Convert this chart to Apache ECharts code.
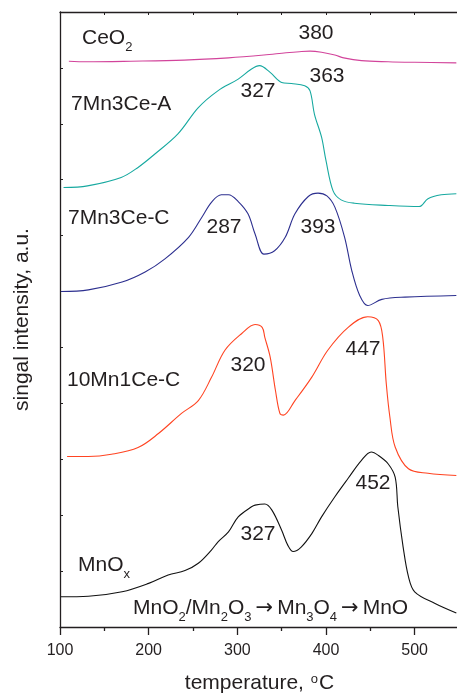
<!DOCTYPE html>
<html>
<head>
<meta charset="utf-8">
<script src="https://cdn.jsdelivr.net/npm/echarts@6/dist/echarts.min.js"></script>
<style>
html,body{margin:0;padding:0;background:#fff;}
#chart{width:457px;height:693px;}
</style>
</head>
<body>
<div id="chart"></div>
<script>
// ---- data (temperature in °C, signal intensity in a.u., curves offset) ----
const ceo2T = [110, 130, 180, 240, 290, 330, 355, 370, 382, 395, 410, 420, 440, 470, 500, 547];
const ceo2I = [10.12, 10.11, 10.12, 10.14, 10.18, 10.23, 10.27, 10.29, 10.30, 10.28, 10.23, 10.18, 10.13, 10.11, 10.10, 10.09];

const mn7ce3aT = [104, 131, 169, 188, 207, 233, 256, 278, 301, 316, 325, 337, 350, 361, 376, 382, 387, 395, 400, 408, 417, 432, 470, 505, 515, 530, 547];
const mn7ce3aI = [7.86, 7.89, 8.04, 8.22, 8.46, 8.82, 9.29, 9.59, 9.80, 9.98, 10.04, 9.92, 9.74, 9.72, 9.68, 9.59, 9.17, 8.76, 8.34, 7.80, 7.64, 7.58, 7.54, 7.52, 7.66, 7.73, 7.75];

const mn7ce3cT = [101, 132, 170, 196, 218, 245, 260, 271, 282, 290, 301, 312, 320, 330, 342, 354, 365, 380, 391, 401, 410, 421, 429, 438, 447, 463, 489, 547];
const mn7ce3cI = [6.00, 6.03, 6.17, 6.35, 6.58, 6.97, 7.33, 7.60, 7.73, 7.73, 7.61, 7.39, 7.03, 6.67, 6.73, 6.97, 7.39, 7.70, 7.76, 7.71, 7.51, 6.97, 6.38, 5.93, 5.75, 5.86, 5.90, 5.93];

const mn10ce1cT = [108, 132, 158, 188, 211, 237, 256, 271, 286, 305, 320, 328, 331, 337, 343, 348, 352, 365, 384, 402, 425, 447, 459, 464, 468, 472, 478, 493, 515, 547];
const mn10ce1cI = [3.05, 3.05, 3.09, 3.21, 3.46, 3.82, 4.05, 4.47, 4.95, 5.25, 5.41, 5.36, 5.18, 4.83, 4.23, 3.82, 3.79, 4.05, 4.47, 4.95, 5.36, 5.55, 5.48, 5.18, 4.35, 3.76, 3.22, 2.83, 2.75, 2.71];

const mnoxT = [101, 132, 170, 200, 222, 241, 256, 271, 278, 290, 301, 316, 320, 331, 339, 350, 357, 363, 372, 384, 395, 410, 425, 440, 451, 459, 470, 478, 481, 487, 493, 500, 523, 547];
const mnoxI = [0.54, 0.55, 0.63, 0.78, 0.93, 1.01, 1.14, 1.38, 1.52, 1.70, 1.97, 2.15, 2.18, 2.20, 2.09, 1.73, 1.46, 1.35, 1.43, 1.67, 1.97, 2.33, 2.66, 2.98, 3.13, 3.07, 2.92, 2.68, 2.15, 1.43, 0.90, 0.63, 0.42, 0.25];

const xTicks = [100, 200, 300, 400, 500];

// ---- text annotations ----
const FONT = '"Liberation Sans", Arial, Helvetica, sans-serif';
const TXT = '#231f20';
const annotations = [
  {text: '{m|CeO}{s|2}', x: 82, y: 40, align: 'left'},
  {text: '{m|380}', x: 316, y: 35, align: 'center'},
  {text: '{m|7Mn3Ce-A}', x: 71, y: 106, align: 'left'},
  {text: '{m|327}', x: 258, y: 93, align: 'center'},
  {text: '{m|363}', x: 327, y: 78, align: 'center'},
  {text: '{m|7Mn3Ce-C}', x: 68, y: 220, align: 'left'},
  {text: '{m|287}', x: 224, y: 229, align: 'center'},
  {text: '{m|393}', x: 318, y: 229, align: 'center'},
  {text: '{m|10Mn1Ce-C}', x: 67, y: 382, align: 'left'},
  {text: '{m|320}', x: 248, y: 367, align: 'center'},
  {text: '{m|447}', x: 363, y: 351, align: 'center'},
  {text: '{m|452}', x: 373, y: 485, align: 'center'},
  {text: '{m|327}', x: 258, y: 536, align: 'center'},
  {text: '{m|MnO}{s|x}', x: 78, y: 567, align: 'left'},
  {text: '{m|MnO}{s|2}{m|/Mn}{s|2}{m|O}{s|3}{a|\u2192}{m|Mn}{s|3}{m|O}{s|4}{a|\u2192}{m|MnO}', x: 133, y: 610, align: 'left'}
];

const richStyles = {
  m: {fontSize: 21, lineHeight: 24, verticalAlign: 'top', fill: TXT, fontFamily: FONT},
  a: {fontSize: 21, lineHeight: 24, verticalAlign: 'top', fill: TXT, fontFamily: '"DejaVu Sans", sans-serif', padding: [0, 4, 0, 4]},
  s: {fontSize: 13, lineHeight: 14, padding: [13, 0, 0, 0], verticalAlign: 'top', fill: TXT, fontFamily: FONT}
};

const pairs = (xs, ys) => xs.map((x, i) => [x, ys[i]]);

const chart = echarts.init(document.getElementById('chart'), null, {renderer: 'canvas'});

const lineSeries = (name, xs, ys, color) => ({
  name, type: 'line', data: pairs(xs, ys), showSymbol: false, symbol: 'none',
  smooth: 0.35,
  lineStyle: {color, width: 1.1}, xAxisIndex: 0, yAxisIndex: 0, animation: false, z: 3
});

const option = {
  animation: false,
  backgroundColor: '#fff',
  grid: {left: 60, top: 12, width: 399, bottom: 66, containLabel: false, outerBoundsMode: 'none'},
  xAxis: [{
    type: 'value', min: 100, max: 550, interval: 100, position: 'bottom',
    name: 'temperature, {sup|o}C',
    nameLocation: 'middle', nameGap: 46,
    nameTextStyle: {fontSize: 21, color: TXT, fontFamily: FONT,
      rich: {sup: {fontSize: 13, color: TXT, fontFamily: FONT, verticalAlign: 'top', lineHeight: 12, padding: [0, 1, 0, 1]}}},
    axisLine: {show: true, onZero: false, lineStyle: {color: '#231f20', width: 1.3}},
    axisTick: {show: true, inside: false, length: 8, lineStyle: {color: '#231f20', width: 1.3}},
    minorTick: {show: true, splitNumber: 2, length: 4, lineStyle: {color: '#231f20', width: 1.3}},
    axisLabel: {show: true, fontSize: 16, color: TXT, fontFamily: FONT, margin: 16,
      customValues: xTicks},
    splitLine: {show: false}
  }, {
    type: 'value', min: 100, max: 550, interval: 100, position: 'top',
    axisLine: {show: true, onZero: false, lineStyle: {color: '#231f20', width: 1.3}},
    axisTick: {show: true, inside: true, length: 3, lineStyle: {color: '#231f20', width: 1}},
    minorTick: {show: true, splitNumber: 2, length: 3, lineStyle: {color: '#231f20', width: 1}},
    axisLabel: {show: false},
    splitLine: {show: false}
  }],
  yAxis: [{
    type: 'value', min: 0, max: 11, interval: 1,
    name: 'singal intensity, a.u.', nameLocation: 'middle', nameGap: 27,
    nameTextStyle: {fontSize: 21, color: TXT, fontFamily: FONT},
    axisLine: {show: true, onZero: false, lineStyle: {color: '#231f20', width: 1.3}},
    axisTick: {show: true, inside: true, length: 3, lineStyle: {color: '#231f20', width: 1}},
    axisLabel: {show: false},
    splitLine: {show: false}
  }],
  series: [
    lineSeries('CeO2', ceo2T, ceo2I, '#d2449b'),
    lineSeries('7Mn3Ce-A', mn7ce3aT, mn7ce3aI, '#17a9a0'),
    lineSeries('7Mn3Ce-C', mn7ce3cT, mn7ce3cI, '#2c2f8f'),
    lineSeries('10Mn1Ce-C', mn10ce1cT, mn10ce1cI, '#ff4422'),
    lineSeries('MnOx', mnoxT, mnoxI, '#111111')
  ],
  graphic: annotations.map(a => ({
    type: 'text', z: 10,
    style: {
      text: a.text, x: a.x, y: a.y, align: a.align, verticalAlign: 'middle',
      textAlign: a.align, textVerticalAlign: 'middle',
      fill: TXT, font: '21px ' + FONT, rich: richStyles
    }
  }))
};

chart.setOption(option);
</script>
</body>
</html>
